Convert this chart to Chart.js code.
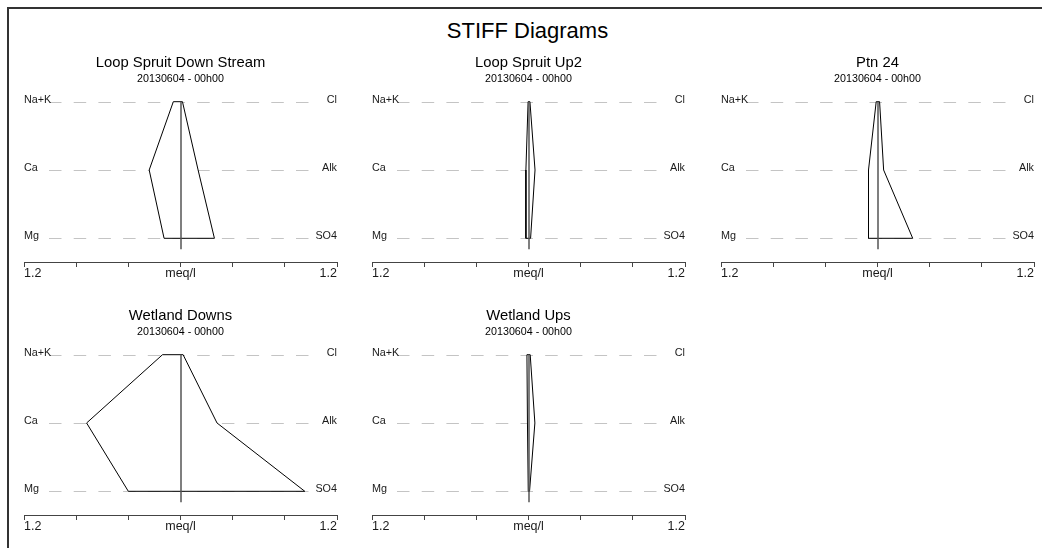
<!DOCTYPE html>
<html>
<head>
<meta charset="utf-8">
<script src="https://cdn.jsdelivr.net/npm/chart.js@4.4.0/dist/chart.umd.min.js"></script>
<style>
html,body{margin:0;padding:0;background:#fff;width:1042px;height:548px;overflow:hidden;font-family:"Liberation Sans",Arial,sans-serif;}
#frame{position:absolute;left:7px;top:7px;width:1100px;height:600px;border-left:2px solid #333;border-top:2px solid #333;}
#mainTitle{position:absolute;left:0;width:1055px;top:18px;text-align:center;font-size:22px;line-height:26px;color:#000;}
canvas{position:absolute;}
</style>
</head>
<body>
<div id="frame"></div>
<div id="mainTitle">STIFF Diagrams</div>
<canvas id="c0" width="333" height="244" style="left:14px;top:40px"></canvas>
<canvas id="c1" width="333" height="244" style="left:362px;top:40px"></canvas>
<canvas id="c2" width="333" height="244" style="left:711px;top:40px"></canvas>
<canvas id="c3" width="333" height="244" style="left:14px;top:293px"></canvas>
<canvas id="c4" width="333" height="244" style="left:362px;top:293px"></canvas>
<script>
// ---- data (meq/l) ----
const siteNames = ['Loop Spruit Down Stream', 'Loop Spruit Up2', 'Ptn 24', 'Wetland Downs', 'Wetland Ups'];
const sampleDates = ['20130604 - 00h00', '20130604 - 00h00', '20130604 - 00h00', '20130604 - 00h00', '20130604 - 00h00'];
const cationLabels = ['Na+K', 'Ca', 'Mg'];
const anionLabels = ['Cl', 'Alk', 'SO4'];
const naK = [0.055, 0.003, 0.010, 0.138, 0.012];
const ca  = [0.240, 0.020, 0.069, 0.720, 0.008];
const mg  = [0.126, 0.020, 0.069, 0.400, 0.002];
const cl  = [0.015, 0.011, 0.016, 0.020, 0.013];
const alk = [0.135, 0.050, 0.047, 0.280, 0.049];
const so4 = [0.260, 0.016, 0.270, 0.953, 0.008];
const axisTickLabels = ['1.2', '', '', 'meq/l', '', '', '1.2'];

Chart.defaults.font.family = '"Liberation Sans", Arial, sans-serif';
Chart.defaults.color = '#222';

const guides = {
  id: 'stiffGuides',
  beforeDatasetsDraw(chart) {
    const {ctx, chartArea: a, scales: {y}} = chart;
    ctx.save();
    ctx.strokeStyle = '#c4c4c4';
    ctx.lineWidth = 1;
    ctx.setLineDash([12.5, 12.2]);
    for (let r = 0; r < 3; r++) {
      const py = Math.round(y.getPixelForValue(r)) + 0.5;
      ctx.beginPath();
      ctx.moveTo(a.left + 25, py);
      ctx.lineTo(a.right - 19, py);
      ctx.stroke();
    }
    ctx.setLineDash([]);
    ctx.fillStyle = '#1a1a1a';
    ctx.font = '10.8px "Liberation Sans", Arial, sans-serif';
    ctx.textBaseline = 'alphabetic';
    for (let r = 0; r < 3; r++) {
      const py = Math.round(y.getPixelForValue(r)) + 1;
      ctx.textAlign = 'left';
      ctx.fillText(cationLabels[r], a.left, py);
      ctx.textAlign = 'right';
      ctx.fillText(anionLabels[r], a.right, py);
    }
    ctx.restore();
  },
  afterDatasetsDraw(chart) {
    const {ctx, scales: {x, y}} = chart;
    const px = Math.round(x.getPixelForValue(0));
    ctx.save();
    ctx.strokeStyle = '#555';
    ctx.lineWidth = 1.5;
    ctx.beginPath();
    ctx.moveTo(px, y.getPixelForValue(0));
    ctx.lineTo(px, y.getPixelForValue(2.16));
    ctx.stroke();
    ctx.restore();
  }
};

siteNames.forEach((name, i) => {
  const pts = [
    {x: -naK[i], y: 0}, {x: -ca[i], y: 1}, {x: -mg[i], y: 2},
    {x: so4[i], y: 2}, {x: alk[i], y: 1}, {x: cl[i], y: 0}, {x: -naK[i], y: 0}
  ];
  new Chart(document.getElementById('c' + i), {
    type: 'scatter',
    data: {
      datasets: [{
        data: pts,
        showLine: true,
        borderColor: '#000',
        borderWidth: 1,
        backgroundColor: '#fff',
        fill: 'shape',
        pointRadius: 0,
        tension: 0,
        clip: false
      }]
    },
    options: {
      responsive: false,
      animation: false,
      devicePixelRatio: 1,
      layout: {padding: {left: 10, right: 10, top: 0, bottom: 0}},
      plugins: {
        legend: {display: false},
        tooltip: {enabled: false},
        title: {display: true, text: name, color: '#000', font: {size: 14.8, weight: 'normal'}, padding: {top: 14, bottom: 0}},
        subtitle: {display: true, text: sampleDates[i], color: '#000', font: {size: 10.7}, padding: {top: 1, bottom: 0}}
      },
      scales: {
        x: {
          type: 'linear', min: -1.2, max: 1.2,
          afterFit: (s) => { s.height += 4; },
          ticks: {
            stepSize: 0.4, align: 'inner', padding: -1, maxRotation: 0, autoSkip: false,
            color: '#1a1a1a', font: {size: 12.5},
            callback: (v, idx) => axisTickLabels[idx]
          },
          grid: {display: true, drawOnChartArea: false, drawTicks: true, tickLength: 5, color: '#444', tickColor: '#444'},
          border: {display: true, color: '#444', width: 1}
        },
        y: {type: 'linear', reverse: true, min: -0.2357, max: 2.347, display: false}
      }
    },
    plugins: [guides]
  });
});
</script>
</body>
</html>
